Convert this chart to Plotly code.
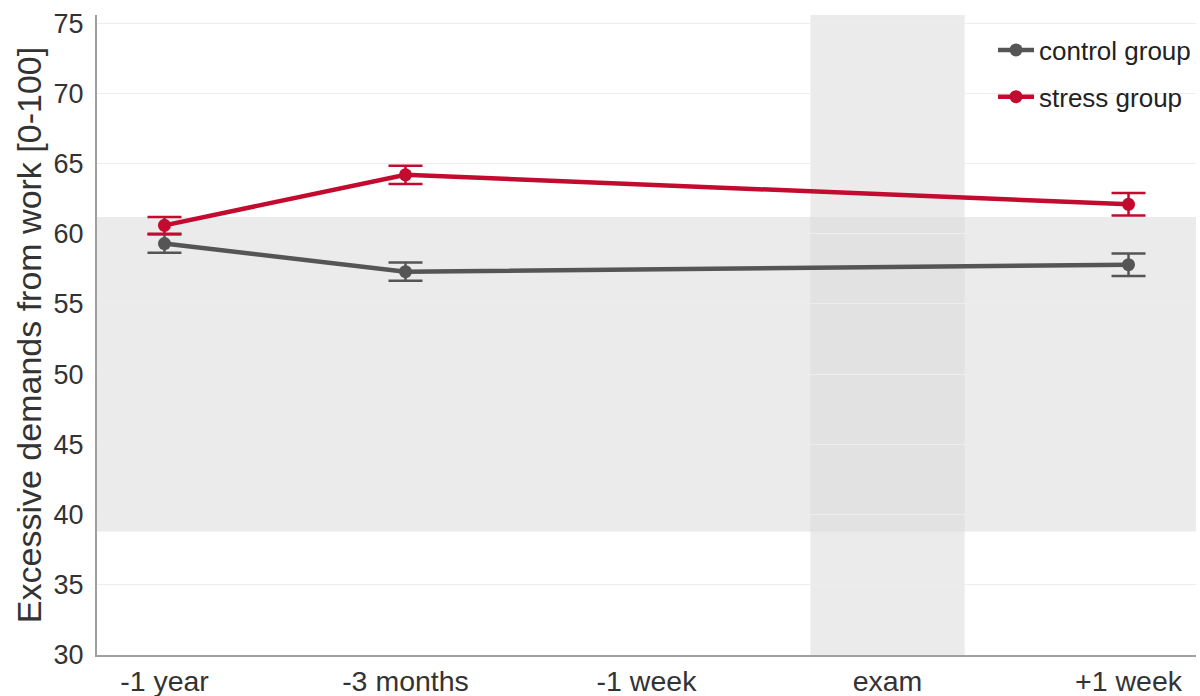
import plotly.graph_objects as go

# Measurement occasions
timepoints = ["-1 year", "-3 months", "-1 week", "exam", "+1 week"]
measured = ["-1 year", "-3 months", "+1 week"]

# Group means and standard errors
control_mean = [59.3, 57.3, 57.8]
control_se = [0.65, 0.65, 0.8]
stress_mean = [60.6, 64.2, 62.1]
stress_se = [0.6, 0.65, 0.8]

# Reference range and exam window
norm_low, norm_high = 38.8, 61.2
exam_label = "exam"
exam_halfwidth = 0.32

CONTROL = "#555555"
STRESS = "#C20B2E"
BAND = "#EBEBEB"
BAND_OVERLAP = "#E2E2E2"
FONT = "Liberation Sans, Arial, sans-serif"

fig = go.Figure()

for name, mean, se, color in [
    ("control group", control_mean, control_se, CONTROL),
    ("stress group", stress_mean, stress_se, STRESS),
]:
    fig.add_trace(go.Scatter(
        x=measured, y=mean, name=name, legendgroup=name,
        mode="lines+markers",
        line=dict(color=color, width=4.5),
        marker=dict(color=color, size=13),
        error_y=dict(type="data", array=se, visible=True,
                     color=color, thickness=2.5, width=17),
    ))

exam_idx = timepoints.index(exam_label)
ex0, ex1 = exam_idx - exam_halfwidth, exam_idx + exam_halfwidth

# Shaded reference band across the whole plot
fig.add_shape(type="rect", xref="paper", yref="y", x0=0, x1=1,
              y0=norm_low, y1=norm_high, fillcolor=BAND,
              line_width=0, layer="below")
# Shaded exam window
fig.add_shape(type="rect", xref="x", yref="paper", x0=ex0, x1=ex1,
              y0=0, y1=1, fillcolor=BAND, line_width=0, layer="below")
# Where the two shaded areas cross
fig.add_shape(type="rect", xref="x", yref="y", x0=ex0, x1=ex1,
              y0=norm_low, y1=norm_high, fillcolor=BAND_OVERLAP,
              line_width=0, layer="below")

fig.update_layout(
    width=1200, height=696,
    margin=dict(l=97, r=4, t=15, b=41),
    plot_bgcolor="white", paper_bgcolor="white",
    font=dict(family=FONT, color="#333333"),
    showlegend=True,
    legend=dict(x=1.0, y=0.982, xanchor="right", yanchor="top",
                font=dict(size=26, color="#222222"),
                bgcolor="rgba(0,0,0,0)", itemwidth=36,
                tracegroupgap=10),
)

fig.update_xaxes(
    type="category", categoryorder="array", categoryarray=timepoints,
    range=[-0.28, 4.28], showgrid=False, zeroline=False,
    showline=True, linecolor="#A0A0A0", linewidth=2,
    ticks="", tickfont=dict(size=28.5, color="#333333"),
    automargin=False,
)
fig.update_yaxes(
    range=[30, 75.58], tickvals=[30, 35, 40, 45, 50, 55, 60, 65, 70, 75],
    showgrid=True, gridcolor="#EDEDED", gridwidth=1, zeroline=False,
    showline=True, linecolor="#A0A0A0", linewidth=2,
    ticks="", tickfont=dict(size=27, color="#333333"),
    ticklabelstandoff=6, automargin=False,
    title=dict(text="Excessive demands from work [0-100]",
               font=dict(size=34, color="#333333"), standoff=2),
)

fig.write_html("out.html")
